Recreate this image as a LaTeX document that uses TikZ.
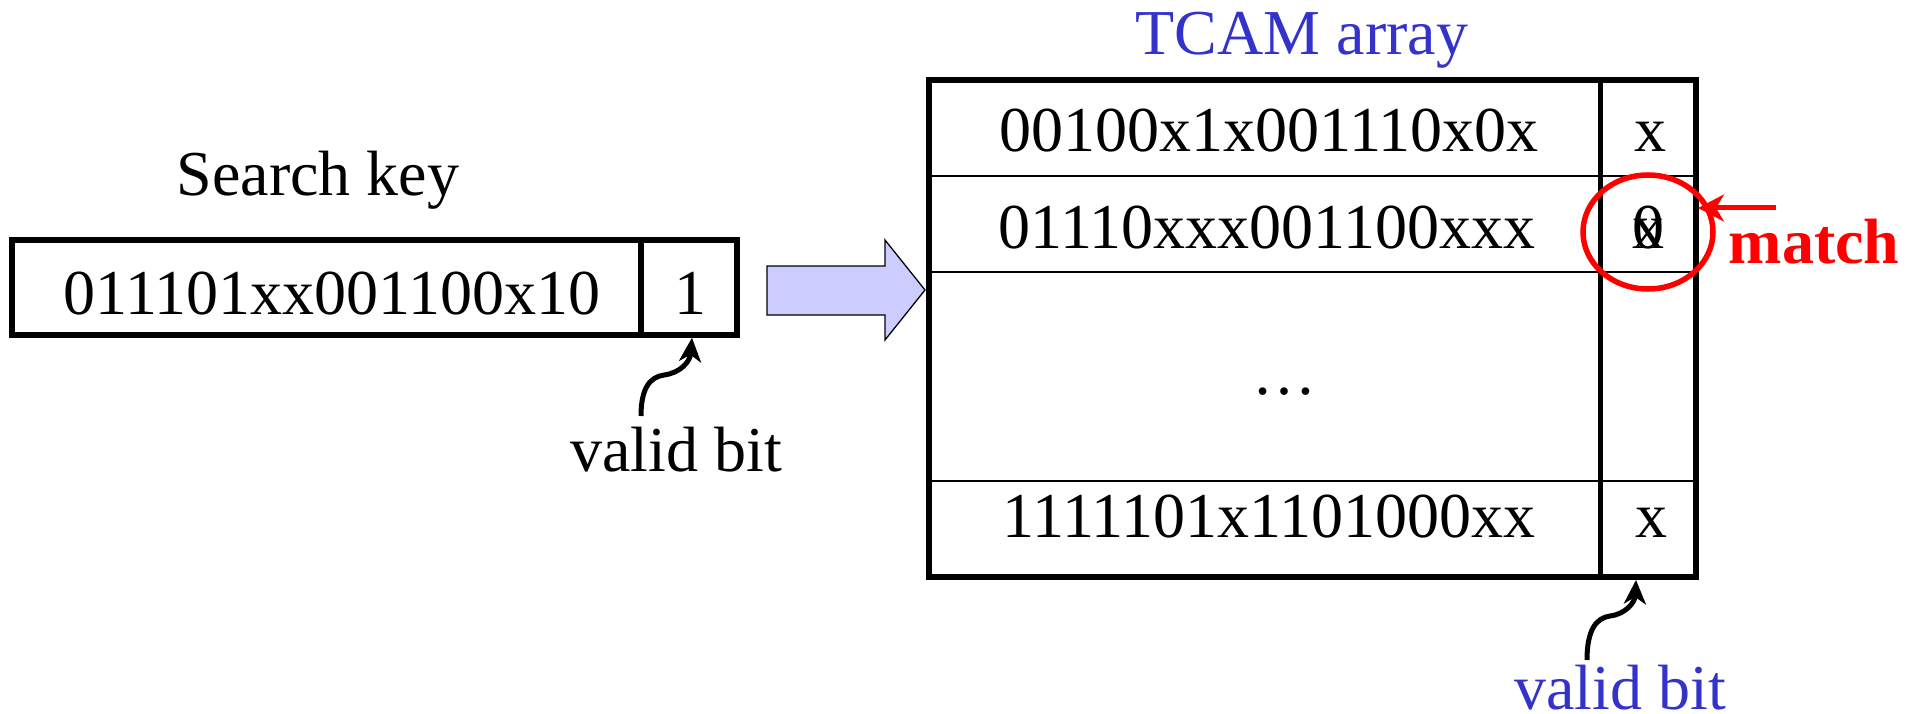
\documentclass[tikz,border=0pt]{standalone}
\usepackage{fontspec}
\setmainfont{Liberation Serif}
\usetikzlibrary{arrows.meta,shapes.geometric}
\definecolor{tblue}{HTML}{3333CC}
\definecolor{lav}{HTML}{CCCCFF}
\begin{document}
\begin{tikzpicture}[x=1pt,y=-1pt,
  lbl/.style={font=\fontsize{64}{70}\selectfont, inner sep=0pt, anchor=base},
  cellbox/.style={draw, line width=5.5pt, inner sep=0pt},
  rowline/.style={line width=1.8pt},
  curly/.style={line width=5pt, -{Stealth[length=24pt,width=22pt,inset=7pt]}},
  redarrow/.style={draw=red, line width=5pt, -{Stealth[length=26pt,width=27pt,inset=8pt]}},
]
\useasboundingbox (0,0) rectangle (1917,714);

% search key
\node[lbl] (sk) at (318,196) {Search key};
\node[cellbox, minimum width=629pt, minimum height=95pt] (keycell) at (326.5,287.5) {};
\node[cellbox, minimum width=96pt, minimum height=95pt] (vcell) at (689,287.5) {};
\node[lbl] (keytxt) at (332,314) {011101xx001100x10};
\node[lbl] (keyvb) at (690,314) {1};
\node[lbl] (vb1) at (676,471) {valid bit};
\coordinate (c1) at (641,416);
\draw[curly] (c1) .. controls (641,388) and (650,377) .. (664,375)
  .. controls (680,373) and (690,362) .. ([xshift=3pt]vcell.south);

% big arrow
\draw[fill=lav, line width=1.3pt] (767,266) -- (885,266) -- (885,240) -- (925,290)
  -- (885,340) -- (885,315) -- (767,315) -- cycle;

% TCAM array
\node[lbl, text=tblue] (title) at (1302,55) {TCAM array};
\node[draw, line width=5.5pt, inner sep=0pt, minimum width=767pt, minimum height=497pt] (tcam) at (1312.5,328.5) {};
\draw[rowline] (929,176) -- (1696,176);
\draw[rowline] (929,272) -- (1696,272);
\draw[rowline] (929,481) -- (1696,481);
\draw[line width=5pt] (1600,80) -- (1600,577);

\node[lbl] (r1) at (1269,152) {00100x1x001110x0x};
\node[lbl] (r1v) at (1650,152) {x};
\node[lbl] (r2) at (1267,248) {01110xxx001100xxx};
\node[lbl] (r2v) at (1648,248) {0};
\node[lbl] (r2x) at (1648,248) {x};
\node[lbl] (r3) at (1284,394) {…};
\node[lbl] (r4) at (1269,537) {1111101x1101000xx};
\node[lbl] (r4v) at (1651,537) {x};

% match
\node[draw=red, line width=5.5pt, ellipse, inner sep=0pt, minimum width=130pt, minimum height=114pt] (ring) at (1648,232) {};
\node[lbl, text=red, font=\fontsize{64}{70}\selectfont\bfseries] (match) at (1814,263) {match};
\coordinate (mstart) at (1776,208);
\coordinate (mtip) at (1698,208);
\draw[redarrow] (mstart) -- (mtip);

% lower valid bit
\node[lbl, text=tblue] (vb2) at (1620,709) {valid bit};
\coordinate (c2) at (1587,660);
\coordinate (t2) at (1636,580);
\draw[curly] (c2) .. controls (1587,630) and (1596,618) .. (1610,616)
  .. controls (1626,614) and (1635,602) .. (t2);
\end{tikzpicture}
\end{document}
